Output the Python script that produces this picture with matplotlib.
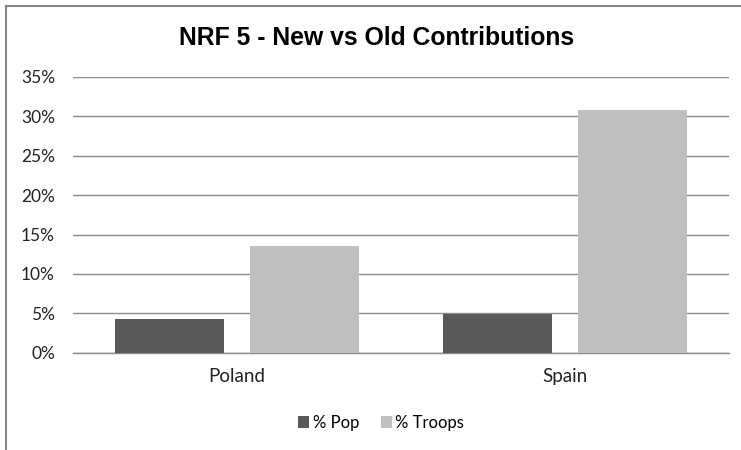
import matplotlib
matplotlib.use("Agg")
import matplotlib.pyplot as plt
from matplotlib.lines import Line2D
from matplotlib.ticker import FuncFormatter, MultipleLocator
import numpy as np

categories = ["Poland", "Spain"]
series_names = ["% Pop", "% Troops"]
pop = [0.043, 0.0495]
troops = [0.135, 0.308]
title = "NRF 5 - New vs Old Contributions"

colors = ["#595959", "#BFBFBF"]
W, H = 741, 450
fig = plt.figure(figsize=(W / 100, H / 100), dpi=100)
ax = fig.add_axes([73 / W, 1 - 352.7 / H, (729 - 73) / W, (352.7 - 76.9) / H])

x = np.arange(len(categories))
bw = 0.332
off = 0.207
b1 = ax.bar(x - off, pop, bw, color=colors[0], label=series_names[0], zorder=3)
b2 = ax.bar(x + off, troops, bw, color=colors[1], label=series_names[1], zorder=3)

ax.set_xlim(-0.5, 1.5)
ax.set_ylim(0, 0.35)
ax.yaxis.set_major_locator(MultipleLocator(0.05))
ax.yaxis.set_major_formatter(FuncFormatter(lambda v, p: f"{v*100:.0f}%"))
ax.grid(axis="y", color="#8C8C8C", linewidth=1.0, zorder=0)
ax.set_axisbelow(True)
for s in ["top", "right", "left"]:
    ax.spines[s].set_visible(False)
ax.spines["bottom"].set_color("#8C8C8C")
ax.spines["bottom"].set_linewidth(1.0)
ax.set_xticks(x)
ax.set_xticklabels(categories)
ax.tick_params(axis="both", length=0)
ax.tick_params(axis="y", pad=13, labelsize=12.5, labelcolor="#222222")
ax.tick_params(axis="x", pad=11, labelsize=13.5, labelcolor="#222222")
for lab in ax.get_xticklabels() + ax.get_yticklabels():
    lab.set_fontfamily("Lato")

fig.text(377 / W, 1 - 38 / H, title, ha="center", va="center",
         fontsize=17.8, fontweight="bold", family="Liberation Sans", color="#000000")

leg = fig.legend(handles=[b1, b2], loc="center", bbox_to_anchor=(381 / W, 1 - 423 / H),
                 ncol=2, frameon=False, handlelength=0.68, handleheight=0.68,
                 handletextpad=0.2, columnspacing=1.3,
                 prop={"family": "Lato", "size": 12})

# chart border (partially cut off at right and bottom)
bc = "#868686"
fig.add_artist(Line2D([5.5 / W, 5.5 / W], [1 - 5.5 / H, 0], color=bc, linewidth=1.5,
                      transform=fig.transFigure))
fig.add_artist(Line2D([5.5 / W, 1], [1 - 5.5 / H, 1 - 5.5 / H], color=bc, linewidth=1.5,
                      transform=fig.transFigure))

fig.savefig("out.png", dpi=100)
